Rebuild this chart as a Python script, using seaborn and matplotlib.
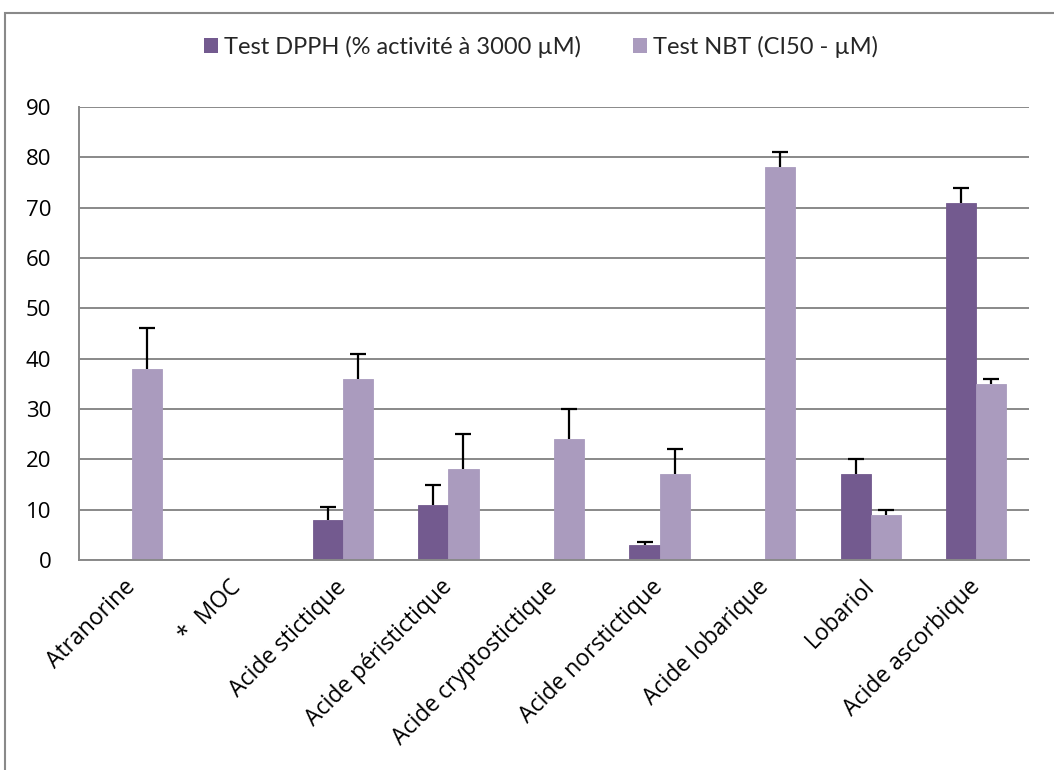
import numpy as np
import pandas as pd
import matplotlib
matplotlib.use("Agg")
import matplotlib.pyplot as plt
from matplotlib.patches import Rectangle
import seaborn as sns

categories = ["Atranorine", "*  MOC", "Acide stictique", "Acide péristictique",
              "Acide cryptostictique", "Acide norstictique", "Acide lobarique",
              "Lobariol", "Acide ascorbique"]
series_names = ["Test DPPH (% activité à 3000 µM)", "Test NBT (CI50 - µM)"]
dpph = [0, 0, 8, 11, 0, 3, 0, 17, 71]
dpph_err = [0, 0, 2.5, 4, 0, 0.5, 0, 3, 3]
nbt = [38, 0, 36, 18, 24, 17, 78, 9, 35]
nbt_err = [8, 0, 5, 7, 6, 5, 3, 1, 1]
y_ticks = [0, 10, 20, 30, 40, 50, 60, 70, 80, 90]

colors = ["#735A8F", "#AA9BBE"]

sns.set_theme(style="white")
plt.rcParams['font.family'] = ['Open Sans', 'DejaVu Sans']

df = pd.DataFrame({
    "cat": categories * 2,
    "val": dpph + nbt,
    "series": [series_names[0]] * len(categories) + [series_names[1]] * len(categories),
})

fig = plt.figure(figsize=(10.54, 7.70), dpi=100)
ax = fig.add_axes([79 / 1054, 1 - 560 / 770, (1029 - 79) / 1054, (560 - 107) / 770])

sns.barplot(data=df, x="cat", y="val", hue="series", palette=colors, width=0.57,
            ax=ax, errorbar=None, saturation=1, edgecolor=None, linewidth=0)
for p, c in zip(ax.patches, [colors[0]] * 9 + [colors[1]] * 9):
    p.set_edgecolor(c)
    p.set_linewidth(0.6)

# error bars (plus side only)
bars = ax.patches[:2 * len(categories)]
errs = dpph_err + nbt_err
vals = dpph + nbt
for p, v, e in zip(bars, vals, errs):
    if e > 0:
        xc = p.get_x() + p.get_width() / 2
        _, caps, _ = ax.errorbar([xc], [v], yerr=[[0], [e]], fmt="none", ecolor="black",
                                 elinewidth=1.6, capsize=6, capthick=1.6, zorder=5)
        caps[0].set_visible(False)

ax.set_ylim(0, 90)
ax.set_xlim(-0.5, len(categories) - 0.5)
ax.set_yticks(y_ticks)
ax.set_yticklabels([str(t) for t in y_ticks], fontsize=16, color="black",
                   family=["Open Sans", "DejaVu Sans"])
ax.yaxis.grid(True, color="#898989", linewidth=1.4)
ax.set_axisbelow(True)
ax.set_xlabel("")
ax.set_ylabel("")

ax.set_xticks(range(len(categories)))
ax.set_xticklabels(categories, rotation=45, ha="right", va="center", rotation_mode="anchor",
                   fontsize=16.5, color="black", family=["Open Sans", "DejaVu Sans"])
ax.tick_params(axis="x", which="major", length=0, pad=17)
ax.set_xticks(np.arange(-0.5, len(categories), 1.0), minor=True)
ax.tick_params(axis="x", which="minor", length=8, width=1.4, color="#898989", direction="out")
ax.tick_params(axis="y", length=7, width=1.4, color="#898989", direction="out", pad=13)

for s in ["top", "right"]:
    ax.spines[s].set_visible(False)
for s in ["left", "bottom"]:
    ax.spines[s].set_color("#898989")
    ax.spines[s].set_linewidth(1.4)

leg = ax.legend(loc="center", bbox_to_anchor=(541 / 1054, 1 - 47 / 770),
                bbox_transform=fig.transFigure, ncol=2, frameon=False,
                prop={"family": ["Lato", "DejaVu Sans"], "size": 17},
                handlelength=0.6, handleheight=0.6,
                handletextpad=0.25, columnspacing=2.2)

fig.patches.append(Rectangle((5 / 1054, -0.1), 1.2, 1 - 13 / 770 + 0.1,
                             transform=fig.transFigure, fill=False,
                             edgecolor="#898989", linewidth=1.5))

fig.savefig("out.png", dpi=100)
